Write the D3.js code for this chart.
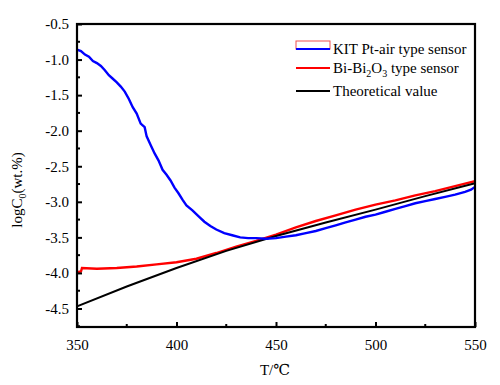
<!DOCTYPE html>
<html>
<head>
  <meta charset="utf-8">
  <script src="https://d3js.org/d3.v7.min.js"></script>
  <style>
    body { margin: 0; background: #fff; }
    svg text { font-family: 'Liberation Serif', 'DejaVu Serif', 'Times New Roman', serif !important; }
  </style>
</head>
<body>
<script>
  // data
  var kitT = [350,352,354,356,358,360,362,364,366,368,370,372,374,376,378,380,382,384,385,387,389,391,393,395,397,399,401,403,405,408,411,414,417,420,424,428,432,436,440,445,450,455,460,465,470,475,480,485,490,495,500,505,510,515,520,525,530,535,540,545,548,550];
  var kitV = [-0.86,-0.88,-0.93,-0.96,-1.02,-1.05,-1.09,-1.15,-1.22,-1.27,-1.32,-1.38,-1.45,-1.55,-1.67,-1.76,-1.90,-1.95,-2.08,-2.20,-2.32,-2.42,-2.55,-2.62,-2.70,-2.80,-2.88,-2.97,-3.05,-3.12,-3.20,-3.28,-3.34,-3.39,-3.44,-3.47,-3.50,-3.51,-3.51,-3.52,-3.51,-3.49,-3.47,-3.44,-3.41,-3.37,-3.33,-3.29,-3.25,-3.21,-3.18,-3.14,-3.10,-3.06,-3.02,-2.99,-2.96,-2.93,-2.90,-2.86,-2.83,-2.79];
  var biT = [350,352,352.5,360,370,380,390,400,410,420,430,440,450,460,470,480,490,500,510,520,530,540,550];
  var biV = [-3.99,-3.98,-3.93,-3.94,-3.93,-3.91,-3.88,-3.85,-3.80,-3.72,-3.63,-3.55,-3.46,-3.36,-3.27,-3.19,-3.11,-3.04,-2.98,-2.91,-2.85,-2.78,-2.71];
  var theoT = [350,375,400,425,450,475,500,525,550];
  var theoV = [-4.47,-4.19,-3.93,-3.69,-3.48,-3.29,-3.11,-2.92,-2.74];
  var xTicks = [350,400,450,500,550];
  var yTicks = [-0.5,-1.0,-1.5,-2.0,-2.5,-3.0,-3.5,-4.0,-4.5];
  var legendNames = ["KIT Pt-air type sensor", "Bi-Bi2O3 type sensor", "Theoretical value"];

  var width = 500, height = 385;
  var m = {left: 77, top: 24, right: 25, bottom: 58};
  var serif = "'Liberation Serif', 'DejaVu Serif', 'Times New Roman', serif";

  var svg = d3.select("body").append("svg")
    .attr("width", width).attr("height", height)
    .style("font-family", serif);

  var x = d3.scaleLinear().domain([350, 550]).range([m.left, width - m.right]);
  var y = d3.scaleLinear().domain([-4.76, -0.5]).range([height - m.bottom, m.top]);

  function pts(t, v) { return t.map(function (d, i) { return [d, v[i]]; }); }
  var line = d3.line().x(function (d) { return x(d[0]); }).y(function (d) { return y(d[1]); });

  var plot = svg.append("g");
  plot.append("path").datum(pts(biT, biV)).attr("d", line)
    .attr("fill", "none").attr("stroke", "#ff0000").attr("stroke-width", 2.4);
  plot.append("path").datum(pts(theoT, theoV)).attr("d", line)
    .attr("fill", "none").attr("stroke", "#000").attr("stroke-width", 2);
  plot.append("path").datum(pts(kitT, kitV)).attr("d", line)
    .attr("fill", "none").attr("stroke", "#0000ff").attr("stroke-width", 2.4);

  // axes, ticks inward
  var xAxis = d3.axisBottom(x).tickValues(xTicks).tickSizeInner(-5).tickSizeOuter(0).tickPadding(12);
  var gx = svg.append("g").attr("transform", "translate(0," + y.range()[0] + ")").call(xAxis);
  var yAxis = d3.axisLeft(y).tickValues(yTicks).tickSizeInner(-5).tickSizeOuter(0).tickPadding(8)
    .tickFormat(function (d) { return d3.format(".1f")(d).replace("\u2212", "-"); });
  var gy = svg.append("g").attr("transform", "translate(" + m.left + ",0)").call(yAxis);
  [gx, gy].forEach(function (g) {
    g.attr("font-family", serif).attr("font-size", 15);
    g.select(".domain").remove();
    g.selectAll(".tick line").attr("stroke", "#000").attr("stroke-width", 2);
    g.selectAll("text").attr("fill", "#000");
  });

  // minor ticks
  svg.append("g").selectAll("line").data([375,425,475,525]).join("line")
    .attr("x1", x).attr("x2", x).attr("y1", y.range()[0]).attr("y2", y.range()[0] - 3)
    .attr("stroke", "#000").attr("stroke-width", 2);
  svg.append("g").selectAll("line").data([-0.75,-1.25,-1.75,-2.25,-2.75,-3.25,-3.75,-4.25,-4.75]).join("line")
    .attr("y1", y).attr("y2", y).attr("x1", m.left).attr("x2", m.left + 3)
    .attr("stroke", "#000").attr("stroke-width", 2);

  // frame
  svg.append("rect").attr("x", m.left).attr("y", m.top)
    .attr("width", x.range()[1] - m.left).attr("height", y.range()[0] - m.top)
    .attr("fill", "none").attr("stroke", "#000").attr("stroke-width", 2.2);

  // axis titles
  svg.append("text").attr("x", 275).attr("y", 375).attr("text-anchor", "middle")
    .attr("font-size", 15).text("T/\u2103");
  var yl = svg.append("text").attr("transform", "translate(22,190) rotate(-90)")
    .attr("text-anchor", "middle").attr("font-size", 15);
  yl.append("tspan").text("logC");
  yl.append("tspan").attr("font-size", 10).attr("dy", 4).text("0");
  yl.append("tspan").attr("dy", -4).text("(wt.%)");

  // legend
  var lg = svg.append("g");
  lg.append("rect").attr("x", 296).attr("y", 41).attr("width", 34).attr("height", 8)
    .attr("fill", "none").attr("stroke", "#f05050").attr("stroke-width", 1);
  var lColors = ["#0000ff", "#ff0000", "#000"];
  var lY = [49, 68, 91];
  legendNames.forEach(function (n, i) {
    lg.append("line").attr("x1", 296).attr("x2", 330).attr("y1", lY[i]).attr("y2", lY[i])
      .attr("stroke", lColors[i]).attr("stroke-width", 2.2);
    var t = lg.append("text").attr("x", 333).attr("y", lY[i] + 5).attr("font-size", 15);
    if (i === 1) {
      t.append("tspan").text("Bi-Bi");
      t.append("tspan").attr("font-size", 10).attr("dy", 4).text("2");
      t.append("tspan").attr("dy", -4).text("O");
      t.append("tspan").attr("font-size", 10).attr("dy", 4).text("3");
      t.append("tspan").attr("dy", -4).text(" type sensor");
    } else {
      t.text(n);
    }
  });
</script>
</body>
</html>
